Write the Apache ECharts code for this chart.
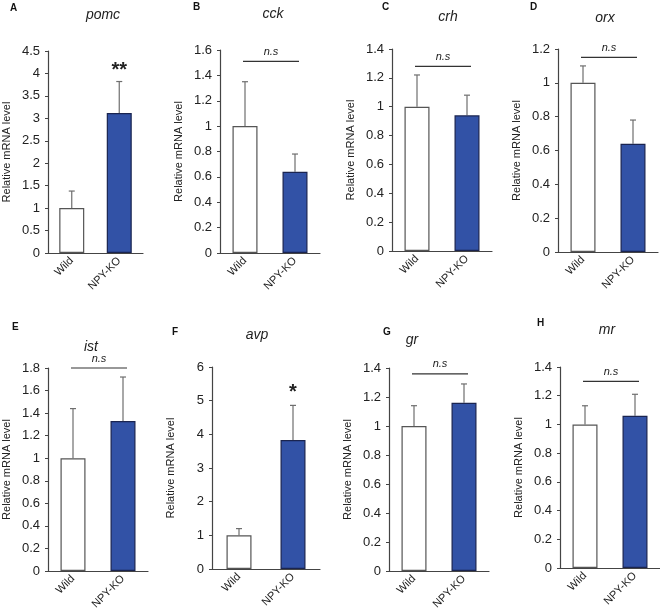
<!DOCTYPE html>
<html>
<head>
<meta charset="utf-8">
<script src="https://cdn.jsdelivr.net/npm/echarts@6/dist/echarts.min.js"></script>
<style>
    html, body { margin: 0; padding: 0; background: #fff; }
    #main { width: 660px; height: 616px; }
</style>
</head>
<body>
<div id="main"></div>
<script>
// 数据
var groups = ['Wild', 'NPY-KO'];
var genes = ['pomc', 'cck', 'crh', 'orx', 'ist', 'avp', 'gr', 'mr'];
var letters = ['A', 'B', 'C', 'D', 'E', 'F', 'G', 'H'];
var wildMean = [1, 1, 1, 1, 1, 1, 1, 1];
var wildErr = [0.38, 0.35, 0.22, 0.10, 0.44, 0.20, 0.14, 0.13];
var koMean = [3.12, 0.64, 0.94, 0.64, 1.33, 3.83, 1.16, 1.06];
var koErr = [0.70, 0.14, 0.14, 0.14, 0.39, 1.03, 0.13, 0.15];
var yMax = [4.5, 1.6, 1.4, 1.2, 1.8, 6, 1.4, 1.4];
var yStep = [0.5, 0.2, 0.2, 0.2, 0.2, 1, 0.2, 0.2];
var sigText = ['**', 'n.s', 'n.s', 'n.s', 'n.s', '*', 'n.s', 'n.s'];
var sigY = [4.06, 1.51, 1.28, 1.15, 1.8, 5.23, 1.36, 1.30];

// 布局 (px)
var grids = [
    [42, 51, 101, 202], [220, 50, 100, 203], [392, 49, 100, 202], [558, 49, 100, 203],
    [48, 368, 100, 203], [212, 367, 108, 202], [389, 368, 100, 203], [560, 367, 100, 201]
];
var titlePos = [[103, 8], [273, 7], [448, 10], [605, 11], [91, 340], [257, 328], [412, 333], [607, 323]];
var letterPos = [[10, 3], [193, 2], [382, 2], [530, 2], [12, 322], [172, 327], [383, 327], [537, 318]];

var blue = '#3252a6';
var axisColor = '#444';

function errorRender(params, api) {
    var x = api.value(0);
    var p1 = api.coord([x, api.value(1)]);
    var p2 = api.coord([x, api.value(2)]);
    var style = { stroke: '#6e6e6e', lineWidth: 1.2 };
    return {
        type: 'group',
        children: [
            { type: 'line', shape: { x1: p1[0], y1: p1[1], x2: p2[0], y2: p2[1] }, style: style },
            { type: 'line', shape: { x1: p2[0] - 3, y1: p2[1], x2: p2[0] + 3, y2: p2[1] }, style: style }
        ]
    };
}

function makeSigRender(txt) {
    return function (params, api) {
        var y = api.value(0);
        var p0 = api.coord([0, y]);
        var p1 = api.coord([1, y]);
        if (txt === 'n.s') {
            return {
                type: 'group',
                children: [
                    { type: 'line', shape: { x1: p0[0] - 2, y1: p0[1], x2: p1[0] + 4, y2: p1[1] }, style: { stroke: '#333', lineWidth: 1.2 } },
                    {
                        type: 'text',
                        style: {
                            text: txt, x: (p0[0] + p1[0]) / 2 + 1, y: p0[1] - 4,
                            align: 'center', verticalAlign: 'bottom',
                            font: 'italic 11px "Liberation Sans"', fill: '#222'
                        }
                    }
                ]
            };
        }
        return {
            type: 'text',
            style: {
                text: txt, x: p1[0], y: p1[1],
                align: 'center', verticalAlign: 'middle',
                font: 'bold 20px "Liberation Sans"', fill: '#222'
            }
        };
    };
}

var option = {
    animation: false,
    title: [],
    grid: [],
    xAxis: [],
    yAxis: [],
    series: []
};

genes.forEach(function (gene, i) {
    var g = grids[i];
    option.grid.push({ left: g[0], top: g[1], width: g[2], height: g[3] });
    option.title.push({
        text: gene,
        left: titlePos[i][0],
        top: titlePos[i][1],
        padding: 0,
        textAlign: 'center',
        textStyle: { fontFamily: 'Liberation Sans', fontStyle: 'italic', fontWeight: 'normal', fontSize: 14, color: '#222' }
    });
    option.title.push({
        text: letters[i],
        left: letterPos[i][0],
        top: letterPos[i][1],
        padding: 0,
        textStyle: { fontFamily: 'Liberation Sans', fontWeight: 'bold', fontSize: 10, color: '#111' }
    });
    option.xAxis.push({
        type: 'category',
        gridIndex: i,
        data: groups,
        axisLine: { lineStyle: { color: axisColor, width: 1.2 } },
        axisTick: { show: false },
        axisLabel: {
            rotate: 45,
            interval: 0,
            margin: 6,
            fontFamily: 'Liberation Sans',
            fontSize: 11,
            color: '#222'
        }
    });
    option.yAxis.push({
        type: 'value',
        gridIndex: i,
        min: 0,
        max: yMax[i],
        interval: yStep[i],
        name: 'Relative mRNA level',
        nameLocation: 'middle',
        nameGap: 36,
        nameTextStyle: { fontFamily: 'Liberation Sans', fontSize: 11, color: '#222' },
        axisLine: { show: true, lineStyle: { color: axisColor, width: 1.2 } },
        axisTick: { show: true, length: 3, lineStyle: { color: axisColor } },
        splitLine: { show: false },
        axisLabel: {
            fontFamily: 'Liberation Sans',
            fontSize: 13,
            color: '#222',
            margin: 8
        }
    });
    option.series.push({
        type: 'bar',
        xAxisIndex: i,
        yAxisIndex: i,
        barWidth: 25,
        data: [
            { value: wildMean[i], itemStyle: { color: '#fff', borderColor: '#555', borderWidth: 1.2 } },
            { value: koMean[i], itemStyle: { color: blue, borderColor: '#1a2450', borderWidth: 1.2 } }
        ]
    });
    option.series.push({
        type: 'custom',
        xAxisIndex: i,
        yAxisIndex: i,
        renderItem: errorRender,
        data: [
            [0, wildMean[i], wildMean[i] + wildErr[i]],
            [1, koMean[i], koMean[i] + koErr[i]]
        ],
        z: 1
    });
    option.series.push({
        type: 'custom',
        xAxisIndex: i,
        yAxisIndex: i,
        clip: false,
        renderItem: makeSigRender(sigText[i]),
        data: [[sigY[i]]]
    });
});

var chart = echarts.init(document.getElementById('main'));
chart.setOption(option);
</script>
</body>
</html>
